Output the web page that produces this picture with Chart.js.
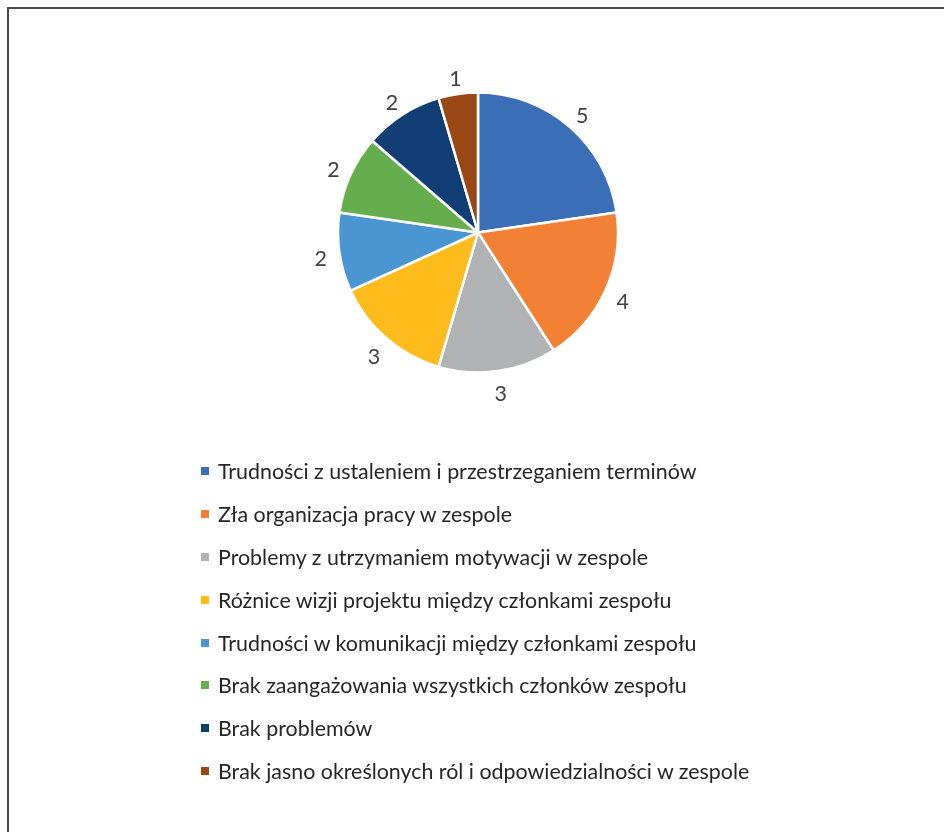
<!DOCTYPE html>
<html>
<head>
<meta charset="utf-8">
<script src="https://cdn.jsdelivr.net/npm/chart.js@4.4.1/dist/chart.umd.min.js"></script>
<style>
  html, body { margin: 0; padding: 0; background: #fff; width: 944px; height: 832px; overflow: hidden; }
  #frame { position: absolute; left: 7px; top: 7px; width: 940px; height: 830px; border-top: 2px solid #4a4a4a; border-left: 2px solid #4a4a4a; }
  #wrap { position: absolute; left: 0; top: 0; width: 944px; height: 832px; }
  #legend { position: absolute; left: 201px; top: 450px; margin: 0; padding: 0; list-style: none;
            font-family: Lato, "Liberation Sans", sans-serif; font-size: 21.4px; color: #262626; }
  #legend li { height: 42.8px; display: flex; align-items: center; white-space: nowrap; }
  #legend li span.box { display: inline-block; width: 8px; height: 8px; margin-right: 9px; }
</style>
</head>
<body>
<div id="frame"></div>
<div id="wrap"><canvas id="c" width="944" height="832"></canvas></div>
<ul id="legend"></ul>
<script>
const categories = [
  "Trudności z ustaleniem i przestrzeganiem terminów",
  "Zła organizacja pracy w zespole",
  "Problemy z utrzymaniem motywacji w zespole",
  "Różnice wizji projektu między członkami zespołu",
  "Trudności w komunikacji między członkami zespołu",
  "Brak zaangażowania wszystkich członków zespołu",
  "Brak problemów",
  "Brak jasno określonych ról i odpowiedzialności w zespole"
];
const values = [5, 4, 3, 3, 2, 2, 2, 1];
const colors = ["#3A6FB7", "#F28135", "#B1B2B4", "#FDBB1C", "#4A96D2", "#66AE4D", "#113F75", "#9A4813"];

const outsideLabels = {
  id: 'outsideLabels',
  afterDatasetsDraw(chart) {
    const ctx = chart.ctx;
    const meta = chart.getDatasetMeta(0);
    ctx.save();
    ctx.font = '21.4px Lato, "Liberation Sans", sans-serif';
    ctx.fillStyle = '#404040';
    ctx.textAlign = 'center';
    ctx.textBaseline = 'middle';
    meta.data.forEach((arc, i) => {
      const p = arc.getProps(['x', 'y', 'startAngle', 'endAngle', 'outerRadius'], true);
      const mid = (p.startAngle + p.endAngle) / 2;
      const r = p.outerRadius + 19;
      const x = p.x + Math.cos(mid) * r;
      const y = p.y + Math.sin(mid) * r + 4;
      ctx.fillText(String(chart.data.datasets[0].data[i]), x, y);
    });
    ctx.restore();
  }
};

const chart = new Chart(document.getElementById('c'), {
  type: 'pie',
  data: {
    labels: categories,
    datasets: [{
      data: values,
      backgroundColor: colors,
      borderColor: '#ffffff',
      borderWidth: 2.5
    }]
  },
  options: {
    responsive: false,
    animation: false,
    radius: 140,
    layout: { padding: { left: 12, right: 0, top: 0, bottom: 367 } },
    plugins: {
      legend: { display: false },
      tooltip: { enabled: false }
    }
  },
  plugins: [outsideLabels]
});

const ul = document.getElementById('legend');
categories.forEach((name, i) => {
  const li = document.createElement('li');
  const box = document.createElement('span');
  box.className = 'box';
  box.style.background = colors[i];
  li.appendChild(box);
  li.appendChild(document.createTextNode(name));
  ul.appendChild(li);
});
</script>
</body>
</html>
